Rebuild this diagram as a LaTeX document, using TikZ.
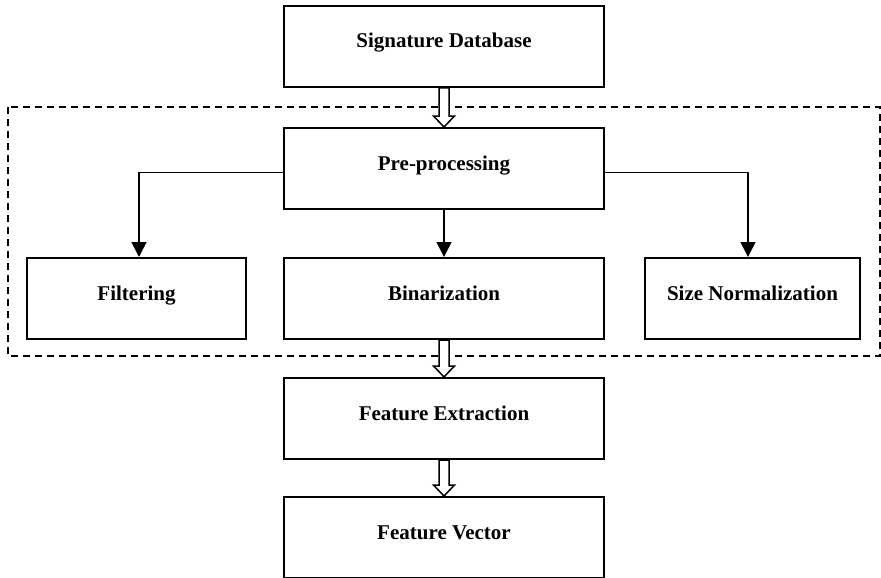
\documentclass[tikz,border=0pt]{standalone}
\usepackage{fontspec}
\setmainfont{Liberation Serif}
\usetikzlibrary{arrows.meta,calc}

\tikzset{
  stage/.style={draw, line width=2pt, rectangle, inner sep=0pt,
    text height=42pt, text depth=39pt, minimum width=#1,
    font=\fontsize{21}{25}\selectfont\bfseries},
  stage/.default=320pt,
  branch/.style={line width=1.5pt, -{Triangle[width=15pt,length=15pt]}},
  group/.style={line width=1.5pt, dash pattern=on 7pt off 5pt},
  hollow/.style={draw, fill=white, line width=1.5pt, line join=miter}
}

% hollow block arrow from the bottom of one box to the top of the next
\newcommand\blockarrow[2]{%
  \path[hollow] ($(#1.south)+(-5,0)$) -- ($(#2.north)+(-5,-11)$)
    -- ($(#2.north)+(-10.5,-11)$) -- (#2.north)
    -- ($(#2.north)+(10.5,-11)$) -- ($(#2.north)+(5,-11)$)
    -- ($(#1.south)+(5,0)$) -- cycle;}

\begin{document}
\begin{tikzpicture}[x=1pt,y=-1pt]
  \useasboundingbox (0,0) rectangle (881,578);

  % group frame around the pre-processing steps
  \draw[group] (8,107) rectangle (880,356);

  \node[stage, anchor=north] (sig) at (444,5) {Signature Database};
  \node[stage, anchor=north] (pre) at (444,127) {Pre-processing};
  \node[stage=219pt, anchor=north] (filt) at (136.5,257) {Filtering};
  \node[stage, anchor=north] (bin) at (444,257) {Binarization};
  \node[stage=215pt, anchor=north] (size) at (752.5,257) {Size Normalization};
  \node[stage, anchor=north] (feat) at (444,377) {Feature Extraction};
  \node[stage, anchor=north] (vec) at (444,496) {Feature Vector};

  % branches out of pre-processing
  \draw[branch] ($(pre.west)+(0,4)$) -| ($(filt.north)+(2.5,0)$);
  \draw[branch] (pre.south) -- (bin.north);
  \draw[branch] ($(pre.east)+(0,4)$) -| ($(size.north)+(-4.5,0)$);

  % main flow
  \blockarrow{sig}{pre}
  \blockarrow{bin}{feat}
  \blockarrow{feat}{vec}
\end{tikzpicture}
\end{document}
